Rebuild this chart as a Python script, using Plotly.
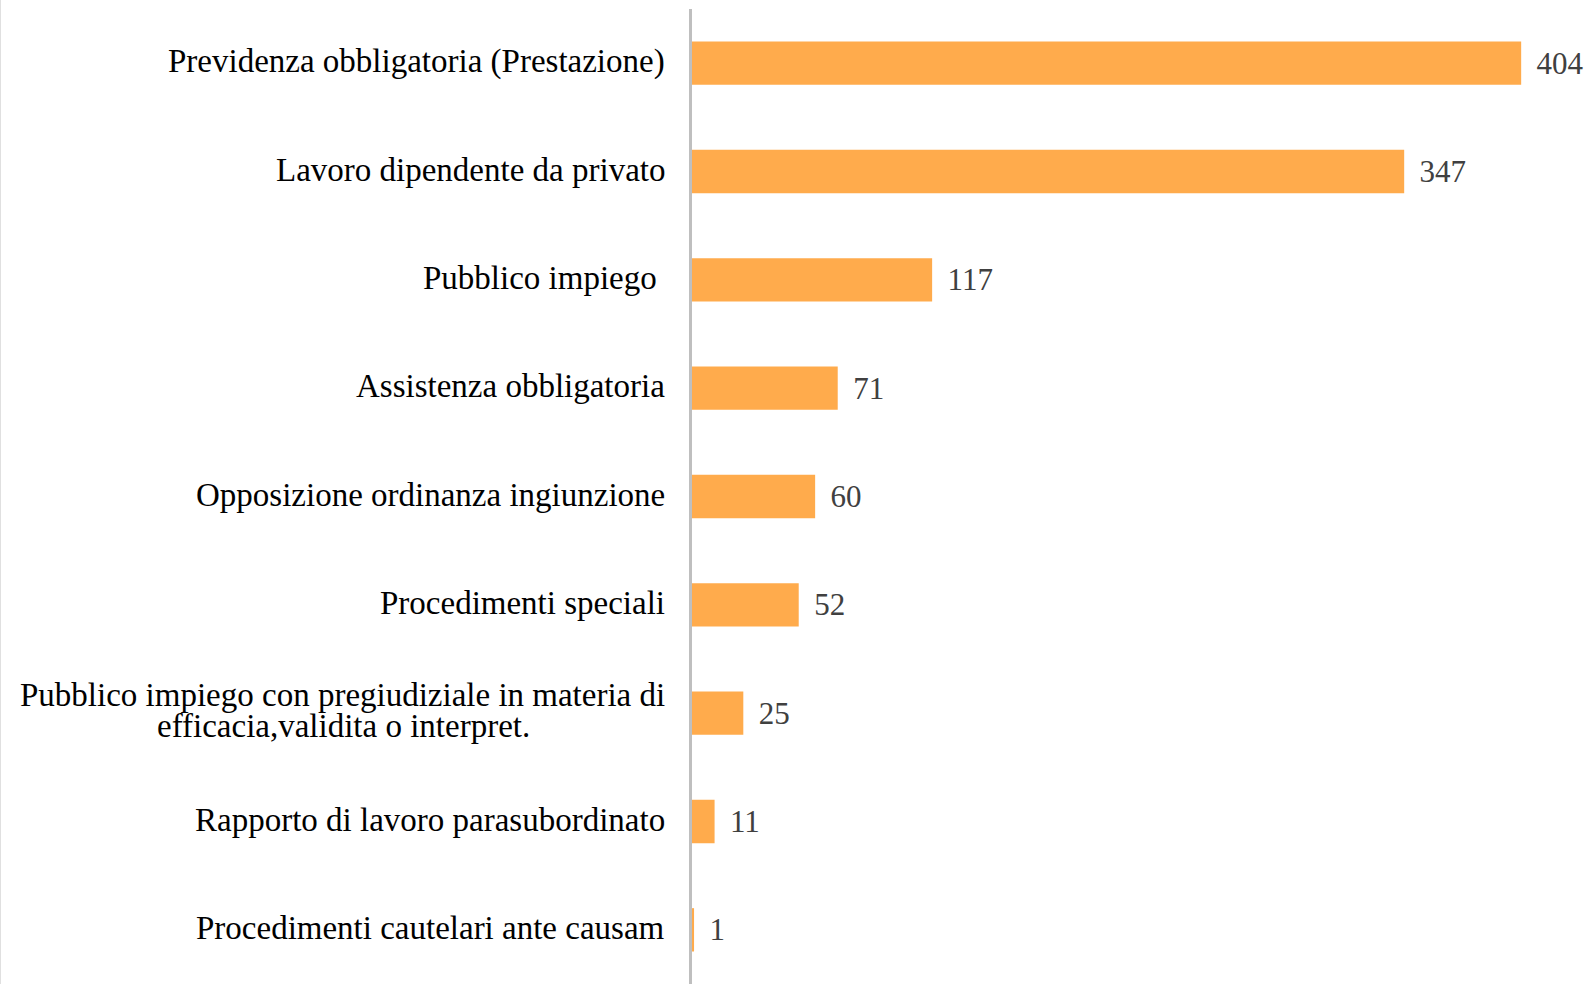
"""Grafico a barre orizzontali: procedimenti per materia"""
import plotly.graph_objects as go

# dati
categorie = [
    "Previdenza obbligatoria (Prestazione)",
    "Lavoro dipendente da privato",
    "Pubblico impiego ",
    "Assistenza obbligatoria",
    "Opposizione ordinanza ingiunzione",
    "Procedimenti speciali",
    "Pubblico impiego con pregiudiziale in materia di<br>efficacia,validita o interpret.",
    "Rapporto di lavoro parasubordinato",
    "Procedimenti cautelari ante causam",
]
valori = [404, 347, 117, 71, 60, 52, 25, 11, 1]

W, H = 1593, 984
ML = 692
font_serif = "Liberation Serif, Times New Roman, serif"

fig = go.Figure()
fig.add_trace(go.Bar(
    x=valori, y=categorie, orientation="h",
    marker=dict(color="#FFAB4C", line=dict(width=0)),
    width=0.4,
    text=valori,
    texttemplate="\u2009\u2009%{text}",
    textposition="outside",
    cliponaxis=False,
    textfont=dict(family=font_serif, size=31, color="#404040"),
))

# etichette delle categorie (annotazioni per centrare la riga doppia)
for cat in categorie:
    righe = cat.split("<br>")
    if len(righe) == 1:
        fig.add_annotation(x=0, y=cat, xref="x", yref="y", text=cat,
                           showarrow=False, xanchor="right", xshift=-25, yshift=2)
    else:
        fig.add_annotation(x=0, y=cat, xref="x", yref="y", text=righe[0],
                           showarrow=False, xanchor="right", xshift=-25, yshift=18)
        fig.add_annotation(x=0, y=cat, xref="x", yref="y", text=righe[1],
                           showarrow=False, xanchor="right", xshift=-160, yshift=-13)

fig.update_layout(
    width=W, height=H,
    margin=dict(l=ML, r=0, t=9, b=0),
    paper_bgcolor="white", plot_bgcolor="white",
    showlegend=False,
    font=dict(family=font_serif, size=33, color="black"),
    xaxis=dict(range=[0, 439], visible=False, showgrid=False, zeroline=False),
    yaxis=dict(autorange="reversed", showgrid=False, zeroline=False,
               showline=True, linecolor="#BFBFBF", linewidth=3,
               ticks="", showticklabels=False),
)

# bordo sottile a sinistra
fig.add_shape(type="line", xref="paper", yref="paper",
              x0=-ML / (W - ML), x1=-ML / (W - ML), y0=-0.01, y1=1.01,
              line=dict(color="#E0E0E0", width=2))

fig.write_html("out.html", config={"displayModeBar": False},
               post_script="document.body.style.margin='0';")
